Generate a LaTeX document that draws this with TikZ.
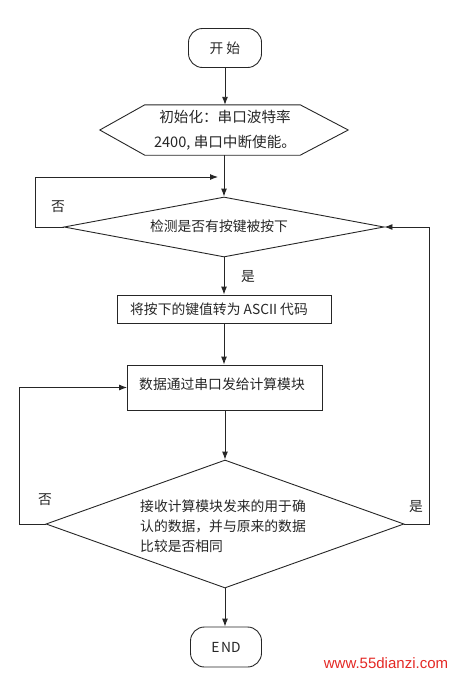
\documentclass[tikz,border=0pt]{standalone}
\usepackage{fontspec}
\setmainfont{Noto Sans CJK SC}
\newfontfamily\wmfont{Liberation Sans}
\usetikzlibrary{arrows.meta,shapes.geometric}
\definecolor{wmred}{RGB}{228,40,36}
\begin{document}
\begin{tikzpicture}[x=1pt,y=-1pt,
  line/.style={draw=black!85, line width=0.9pt},
  arr/.style={line, -{Latex[length=8pt,width=6pt]}},
  txt/.style={font=\fontsize{13.8}{20}\selectfont, inner sep=0pt, text=black!85},
  term/.style={line, rectangle, rounded corners=14pt, minimum width=73pt, minimum height=39pt, inner sep=0pt, txt},
  box/.style={line, rectangle, inner sep=0pt},
  dia/.style={line, diamond, inner sep=0pt},
]
\useasboundingbox (0,0) rectangle (456,675);

% nodes
\node[term] (start) at (225,48) {开\hspace{3pt}始};
\node[minimum width=248pt, minimum height=50pt, inner sep=0pt] (init) at (224,130) {};
\draw[line] (init.west) -- ([xshift=45pt]init.north west) -- ([xshift=-48pt]init.north east)
  -- (init.east) -- ([xshift=-48pt]init.south east) -- ([xshift=45pt]init.south west) -- cycle;
\node[txt, align=center, font=\fontsize{14.6}{25}\selectfont] (initt) at (225,130) {初始化：串口波特率\\2400, 串口中断使能。};

\node[dia, minimum width=320pt, minimum height=60pt] (d1) at (224,227) {};
\node[txt] (d1t) at (219,226) {检测是否有按键被按下};

\node[box, minimum width=214pt, minimum height=28pt] (r1) at (224,309) {};
\node[txt] (r1t) at (219,309) {将按下的键值转为 ASCII 代码};

\node[box, minimum width=195pt, minimum height=45pt] (r2) at (225,387.5) {};
\node[txt] (r2t) at (222,384) {数据通过串口发给计算模块};

\node[dia, minimum width=358pt, minimum height=128pt] (d2) at (225,524) {};
\node[txt, align=left, anchor=west] (d2t) at (140,526) {接收计算模块发来的用于确\\认的数据，并与原来的数据\\比较是否相同};

\node[term, minimum width=71pt, minimum height=40pt] (end) at (226,647) {E\hspace{1.5pt}ND};

% main flow
\draw[arr] (start.south) -- (start.south |- init.north);
\draw[arr] (init.south) -- (d1.north);
\draw[arr] (d1.south) -- (r1.north);
\draw[arr] (r1.south) -- (r2.north -| r1.south);
\draw[arr] (r2.south) -- (d2.north);
\draw[arr] (d2.south) -- (d2.south |- end.north);

% loops
\coordinate (j1) at (218,177);
\draw[arr] (d1.west) -- ++(-28,0) |- (j1);
\draw[arr] (d2.west) -- ++(-26,0) |- (r2.west);
\draw[arr] (d2.east) -- ++(25,0) |- (d1.east);

% labels
\node[txt] (n1) at (58,207) {否};
\node[txt] (y1) at (248,277) {是};
\node[txt] (n2) at (45,500) {否};
\node[txt] (y2) at (416,507) {是};

% watermark
\node[inner sep=0pt, text=wmred, font=\wmfont\fontsize{15}{15}\selectfont] (wm) at (386,663) {www.55dianzi.com};
\end{tikzpicture}
\end{document}
